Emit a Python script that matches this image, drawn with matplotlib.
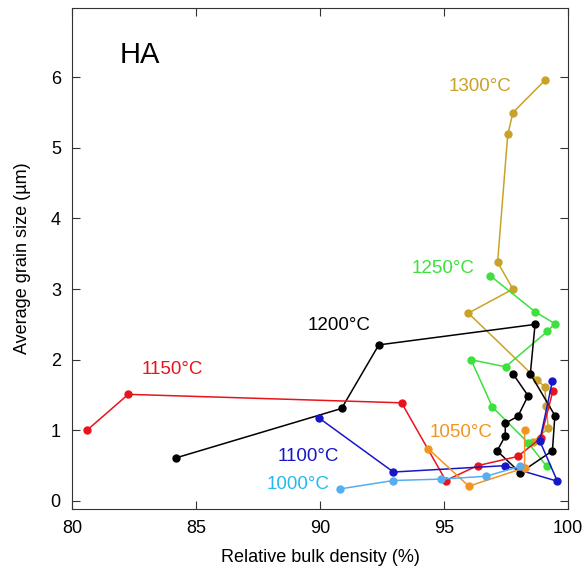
import numpy as np
import matplotlib.pyplot as plt

plt.rcParams['font.family'] = ['Liberation Sans', 'DejaVu Sans']

# relative bulk density (%) and grain size (um) for each sintering temperature
x_1000 = [90.79, 92.96, 94.89, 96.70, 98.06]
y_1000 = [0.17, 0.29, 0.31, 0.35, 0.49]

x_1050 = [94.36, 96.00, 98.25, 98.25]
y_1050 = [0.74, 0.21, 0.47, 1.00]

x_1100 = [89.98, 92.96, 97.44, 99.57, 98.86, 99.37]
y_1100 = [1.17, 0.41, 0.50, 0.28, 0.85, 1.70]

x_1150 = [80.60, 82.27, 93.29, 95.07, 96.35, 97.97, 98.90, 99.39]
y_1150 = [1.00, 1.51, 1.39, 0.29, 0.50, 0.63, 0.89, 1.56]

x_1200 = [84.19, 90.87, 92.37, 98.67, 98.48, 99.47, 99.37, 98.07, 97.14, 97.47, 97.47, 97.98, 98.39, 97.78]
y_1200 = [0.61, 1.31, 2.21, 2.50, 1.80, 1.21, 0.71, 0.40, 0.71, 0.92, 1.10, 1.20, 1.49, 1.80]

x_1250 = [96.86, 98.67, 99.47, 99.16, 97.48, 96.09, 96.95, 98.40, 99.14]
y_1250 = [3.19, 2.68, 2.51, 2.40, 1.90, 2.00, 1.33, 0.82, 0.49]

x_1300 = [99.08, 97.78, 97.57, 97.16, 97.78, 95.98, 98.76, 99.06, 99.13, 99.20, 98.60]
y_1300 = [5.96, 5.50, 5.19, 3.38, 3.00, 2.66, 1.72, 1.61, 1.34, 1.03, 0.84]

series = [
    (x_1300, y_1300, '#c9a227'),
    (x_1250, y_1250, '#3de03d'),
    (x_1200, y_1200, 'black'),
    (x_1150, y_1150, '#e8141c'),
    (x_1100, y_1100, '#1717c8'),
    (x_1050, y_1050, '#f39422'),
    (x_1000, y_1000, '#55aef0'),
]

labels = ['1300°C', '1250°C', '1200°C', '1150°C', '1100°C', '1050°C', '1000°C']
label_x = [95.2, 93.7, 89.5, 82.8, 88.3, 94.4, 87.85]
label_y = [5.87, 3.29, 2.48, 1.86, 0.63, 0.97, 0.23]
label_c = ['#c9a227', '#3de03d', 'black', '#e8141c', '#1717c8', '#f39422', '#22bbee']

fig = plt.figure(figsize=(5.85, 5.71), dpi=100)
ax = fig.add_axes([0.123, 0.109, 0.848, 0.877])

for xs, ys, col in series:
    ax.plot(xs, ys, '-o', color=col, lw=1.1, ms=5)

for t, lx, ly, c in zip(labels, label_x, label_y, label_c):
    ax.text(lx, ly, t, color=c, fontsize=13.5, va='center', ha='left')

ax.text(82.75, 6.31, 'HA', fontsize=21, ha='center', va='center')

ax.set_xlim(80, 100)
ax.set_ylim(-0.11, 6.98)
ax.set_xticks([80, 85, 90, 95, 100])
ax.set_yticks([0, 1, 2, 3, 4, 5, 6])
ax.tick_params(direction='in', top=True, right=True, labelsize=13, length=6,
               color='#333333', pad=8)
for s in ax.spines.values():
    s.set_color('#333333')
ax.set_xlabel('Relative bulk density (%)', fontsize=13, labelpad=9)
ax.set_ylabel('Average grain size (µm)', fontsize=13, labelpad=14)

fig.savefig('out.png')
